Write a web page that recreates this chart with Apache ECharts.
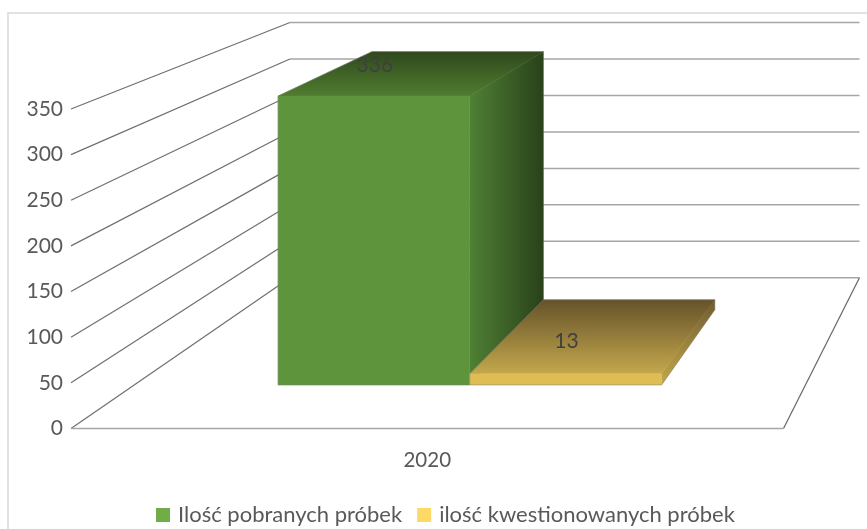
<!DOCTYPE html>
<html><head><meta charset="utf-8">
<style>html,body{margin:0;padding:0;background:#fff}#c{width:867px;height:529px}</style>
<script src="https://cdn.jsdelivr.net/npm/echarts@6/dist/echarts.min.js"></script>
</head><body><div id="c"></div>
<script>
const categories = ['2020'];
const seriesNames = ['Ilość pobranych próbek', 'ilość kwestionowanych próbek'];
const pobrane = [336];
const kwestionowane = [13];
const yTicks = [0, 50, 100, 150, 200, 250, 300, 350];

const FONT = 'Lato, sans-serif';
const V = [1162, -322];          // vanishing point of the 3D view
const S_WALL = 0.7993, S_FRONT = 0.942, S_BACK = 0.842; // depth scales
const BAR_FRAC = 0.2857;
const LABEL_OFFSET = [[-41, -9], [-31, 4]];
const proj = (p, s) => [V[0] + (p[0] - V[0]) * s, V[1] + (p[1] - V[1]) * s];
const grad = (x, y, x2, y2, a, b) => new echarts.graphic.LinearGradient(x, y, x2, y2, [{offset: 0, color: a}, {offset: 1, color: b}]);
const poly = (points, fill) => ({type: 'polygon', shape: {points}, style: {fill, stroke: fill, lineWidth: 0.5}});
const line = (a, b, stroke, w) => ({type: 'line', shape: {x1: a[0], y1: a[1], x2: b[0], y2: b[1]}, style: {stroke, lineWidth: w, fill: null}});

const palette = [
  {front: '#5e953c', topF: '#507d30', topB: '#2f481d', side: [1, 0], sideA: '#4f8034', sideB: '#29411a'},
  {front: '#dfbd55', topF: '#c4a84c', topB: '#65522a', side: [0, 1], sideA: '#6f5b2e', sideB: '#c4a84c'}
];

function renderWall(params, api) {
  const v = api.value(0);
  const f = api.coord([0, v]);
  const left = api.coord([0, 0])[0] - api.size([1, 0])[0] / 2;
  const right = left + api.size([1, 0])[0];
  const a = [left, f[1]], b = proj(a, S_WALL), c = proj([right, f[1]], S_WALL);
  const children = [line(a, b, '#6f6f6f', 1.2), line(b, c, '#a6a6a6', 1.5)];
  if (v === 0) {
    children.push(line([right, f[1]], c, '#666666', 1.2));
    children.push(line(a, [right, f[1]], '#a6a6a6', 1.5));
  }
  return {type: 'group', children};
}

function renderBar(params, api) {
  const i = params.seriesIndex - 1;
  const cat = api.value(0), val = api.value(1);
  const base = api.coord([cat, 0]), top = api.coord([cat, val]);
  const band = api.size([1, 0])[0];
  const w = band * BAR_FRAC;
  const x0 = base[0] + (i - 1) * w, x1 = x0 + w;
  const c = palette[i];
  const P = (x, y, s) => proj([x, y], s);
  const fb0 = P(x0, base[1], S_FRONT), fb1 = P(x1, base[1], S_FRONT);
  const ft0 = P(x0, top[1], S_FRONT), ft1 = P(x1, top[1], S_FRONT);
  const bb1 = P(x1, base[1], S_BACK);
  const bt0 = P(x0, top[1], S_BACK), bt1 = P(x1, top[1], S_BACK);
  const mid = P((x0 + x1) / 2, top[1], (S_FRONT + S_BACK) / 2);
  return {type: 'group', children: [
    poly([ft1, bt1, bb1, fb1], grad(0, 0, c.side[0], c.side[1], c.sideA, c.sideB)),
    poly([ft0, bt0, bt1, ft1], grad(0, 1, 0, 0, c.topF, c.topB)),
    poly([fb0, fb1, ft1, ft0], c.front),
    {type: 'polygon', shape: {points: [fb0, fb1, bb1, bt1, bt0, ft0]},
      style: {fill: null, stroke: 'rgba(125,125,125,0.6)', lineWidth: 0.7}},
    {type: 'text', z2: 10, style: {
      text: String(val), x: mid[0] + LABEL_OFFSET[i][0], y: mid[1] + LABEL_OFFSET[i][1],
      align: 'center', verticalAlign: 'middle', fill: '#404040', font: '21px ' + FONT
    }}
  ]};
}

const chart = echarts.init(document.getElementById('c'), null, {renderer: 'canvas'});
chart.setOption({
  animation: false,
  backgroundColor: '#fff',
  graphic: [{type: 'rect', z: -1, shape: {x: 8, y: 13, width: 1000, height: 700},
    style: {fill: '#fff', stroke: '#d9d9d9', lineWidth: 1.5}}],
  grid: {left: 71, right: 83.5, top: 109, bottom: 100.6},
  legend: {
    data: seriesNames, left: 156, top: 504, padding: 0, itemWidth: 14, itemHeight: 14, itemGap: 15,
    icon: 'rect', textStyle: {color: '#595959', fontFamily: FONT, fontSize: 22, padding: [0, 0, 0, 3]}, selectedMode: false
  },
  xAxis: {type: 'category', data: categories,
    axisLine: {show: false}, axisTick: {show: false},
    axisLabel: {color: '#595959', fontFamily: FONT, fontSize: 20.5, margin: 21}},
  yAxis: {type: 'value', min: 0, max: 350, interval: 50,
    axisLine: {show: false}, axisTick: {show: false}, splitLine: {show: false},
    axisLabel: {color: '#595959', fontFamily: FONT, fontSize: 21, margin: 8}},
  series: [
    {type: 'custom', name: 'wall', silent: true, clip: false, renderItem: renderWall, data: yTicks.map(t => [t]), encode: {y: 0}, z: 1},
    {type: 'custom', name: seriesNames[0], clip: false, renderItem: renderBar, itemStyle: {color: '#70ad47'},
      data: pobrane.map((v, k) => [k, v]), encode: {x: 0, y: 1}, z: 2},
    {type: 'custom', name: seriesNames[1], clip: false, renderItem: renderBar, itemStyle: {color: '#ffd966'},
      data: kwestionowane.map((v, k) => [k, v]), encode: {x: 0, y: 1}, z: 3}
  ]
});
</script></body></html>
